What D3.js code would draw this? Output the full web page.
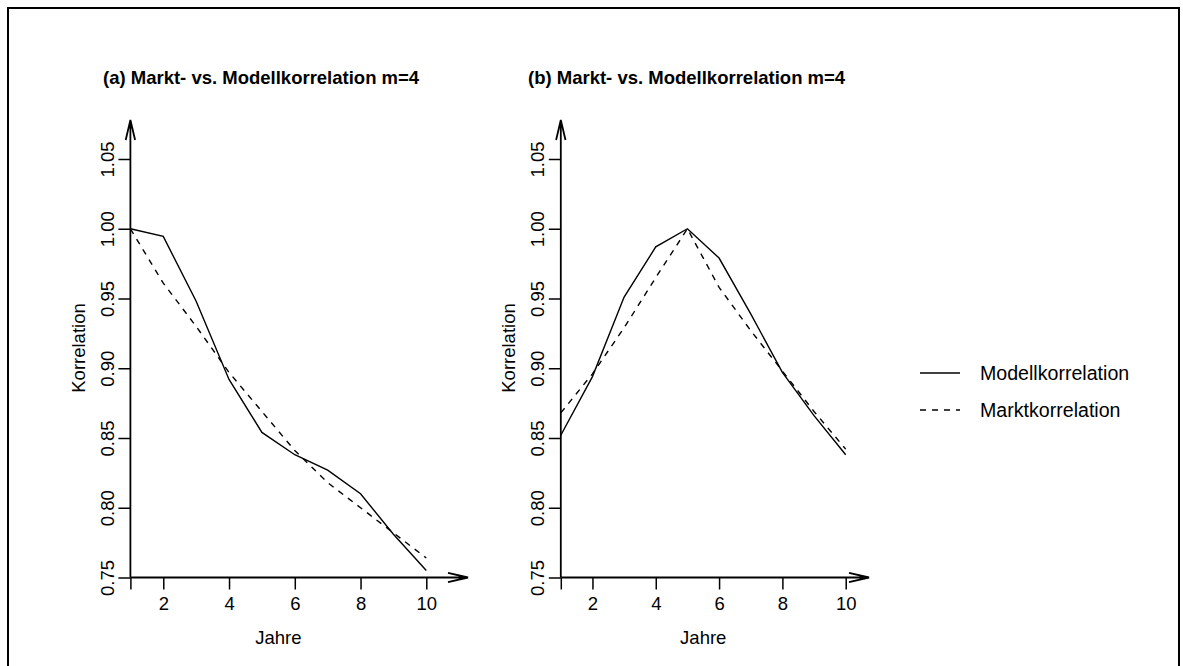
<!DOCTYPE html>
<html>
<head>
<meta charset="utf-8">
<script src="https://cdn.jsdelivr.net/npm/d3@7"></script>
<style>
  html, body { margin: 0; padding: 0; background: #fff; }
  svg { display: block; font-family: "Liberation Sans", Arial, sans-serif; }
</style>
</head>
<body>
<svg id="chart" width="1183" height="666"></svg>
<script>
// Years on the horizontal axis
const years = [1, 2, 3, 4, 5, 6, 7, 8, 9, 10];

// Panel (a): correlation to year 1
const modellA = [1.000, 0.9945, 0.948, 0.892, 0.854, 0.838, 0.827, 0.810, 0.781, 0.755];
const marktA  = [1.000, 0.961, 0.930, 0.897, 0.869, 0.841, 0.818, 0.800, 0.782, 0.764];

// Panel (b): correlation to year 5
const modellB = [0.852, 0.894, 0.951, 0.987, 1.000, 0.979, 0.939, 0.897, 0.866, 0.838];
const marktB  = [0.868, 0.896, 0.929, 0.965, 1.000, 0.958, 0.927, 0.898, 0.869, 0.842];

// Axis ticks and texts
const xTicks = [1, 2, 4, 6, 8, 10];
const xTickLabels = ["", "2", "4", "6", "8", "10"];
const yTicks = [0.75, 0.80, 0.85, 0.90, 0.95, 1.00, 1.05];
const yTickLabels = ["0.75", "0.80", "0.85", "0.90", "0.95", "1.00", "1.05"];
const titles = ["(a) Markt- vs. Modellkorrelation m=4", "(b) Markt- vs. Modellkorrelation m=4"];
const seriesNames = ["Modellkorrelation", "Marktkorrelation"];
const xLabel = "Jahre";
const yLabel = "Korrelation";

const svg = d3.select("#chart");
const FONT = 18.5;
const LEGEND_FONT = 19.6;
const DASH = "6,6";

// outer frame (bottom edge runs off the canvas)
svg.append("path")
  .attr("d", "M8,700 L8,8 L1179,8 L1179,700")
  .attr("fill", "none").attr("stroke", "#000").attr("stroke-width", 2);

const panels = [
  { title: titles[0], modell: modellA, markt: marktA, x0: 130.4, x1: 426.3, xTip: 468, titleX: 103 },
  { title: titles[1], modell: modellB, markt: marktB, x0: 560.8, x1: 845.7, xTip: 869, titleX: 528 }
];

const yScale = d3.scaleLinear().domain([0.75, 1.05]).range([577.5, 159]);
const yTip = 120;

panels.forEach(p => {
  const x = d3.scaleLinear().domain([1, 10]).range([p.x0, p.x1]);
  const g = svg.append("g");
  const baseY = yScale(0.75);

  // title
  g.append("text")
    .attr("x", p.titleX).attr("y", 83.5)
    .attr("font-size", 18.5).attr("font-weight", "bold")
    .text(p.title);

  // y axis with ticks
  const yAxis = g.append("g")
    .attr("transform", `translate(${p.x0},0)`)
    .call(d3.axisLeft(yScale).tickValues(yTicks)
      .tickFormat((d, i) => yTickLabels[i]).tickSize(12).tickSizeOuter(0));
  yAxis.select(".domain").remove();
  yAxis.selectAll("line").attr("stroke", "#000").attr("stroke-width", 1.5);
  yAxis.selectAll("text")
    .attr("transform", "rotate(-90)")
    .attr("x", 0).attr("y", -23).attr("dy", "0.35em")
    .attr("text-anchor", "middle")
    .attr("font-size", FONT).attr("font-family", "Liberation Sans, Arial, sans-serif")
    .attr("fill", "#000");

  // x axis with ticks
  const xAxis = g.append("g")
    .attr("transform", `translate(0,${baseY})`)
    .call(d3.axisBottom(x).tickValues(xTicks)
      .tickFormat((d, i) => xTickLabels[i]).tickSize(12).tickSizeOuter(0).tickPadding(7));
  xAxis.select(".domain").remove();
  xAxis.selectAll("line").attr("stroke", "#000").attr("stroke-width", 1.5);
  xAxis.selectAll("text")
    .attr("font-size", FONT).attr("font-family", "Liberation Sans, Arial, sans-serif")
    .attr("fill", "#000");

  // axis lines ending in open arrowheads
  const axisPath = `M${p.x0},${baseY} L${p.x0},${yTip}` +
    ` M${p.x0 - 4.7},${yTip + 20} L${p.x0},${yTip} L${p.x0 + 4.7},${yTip + 20}` +
    ` M${p.x0},${baseY} L${p.xTip},${baseY}` +
    ` M${p.xTip - 20},${baseY - 4.7} L${p.xTip},${baseY} L${p.xTip - 20},${baseY + 4.7}`;
  g.append("path").attr("d", axisPath)
    .attr("fill", "none").attr("stroke", "#000").attr("stroke-width", 1.8);

  // axis titles
  g.append("text")
    .attr("x", (p.x0 + p.x1) / 2).attr("y", 643.5)
    .attr("text-anchor", "middle").attr("font-size", FONT)
    .text(xLabel);
  g.append("text")
    .attr("transform", `translate(${p.x0 - 52},${348}) rotate(-90)`)
    .attr("dy", "0.35em")
    .attr("text-anchor", "middle").attr("font-size", FONT)
    .text(yLabel);

  // series lines
  const line = d3.line().x((d, i) => x(years[i])).y(d => yScale(d));
  g.append("path").datum(p.modell).attr("d", line)
    .attr("fill", "none").attr("stroke", "#000").attr("stroke-width", 1.4);
  g.append("path").datum(p.markt).attr("d", line)
    .attr("fill", "none").attr("stroke", "#000").attr("stroke-width", 1.4)
    .attr("stroke-dasharray", DASH);
});

// legend
const legend = svg.append("g");
const legendY = [373, 410];
seriesNames.forEach((name, i) => {
  legend.append("line")
    .attr("x1", 920).attr("x2", 960)
    .attr("y1", legendY[i]).attr("y2", legendY[i])
    .attr("stroke", "#000").attr("stroke-width", 1.4)
    .attr("stroke-dasharray", i === 1 ? DASH : null);
  legend.append("text")
    .attr("x", 980).attr("y", legendY[i]).attr("dy", "0.35em")
    .attr("font-size", LEGEND_FONT)
    .text(name);
});
</script>
</body>
</html>
